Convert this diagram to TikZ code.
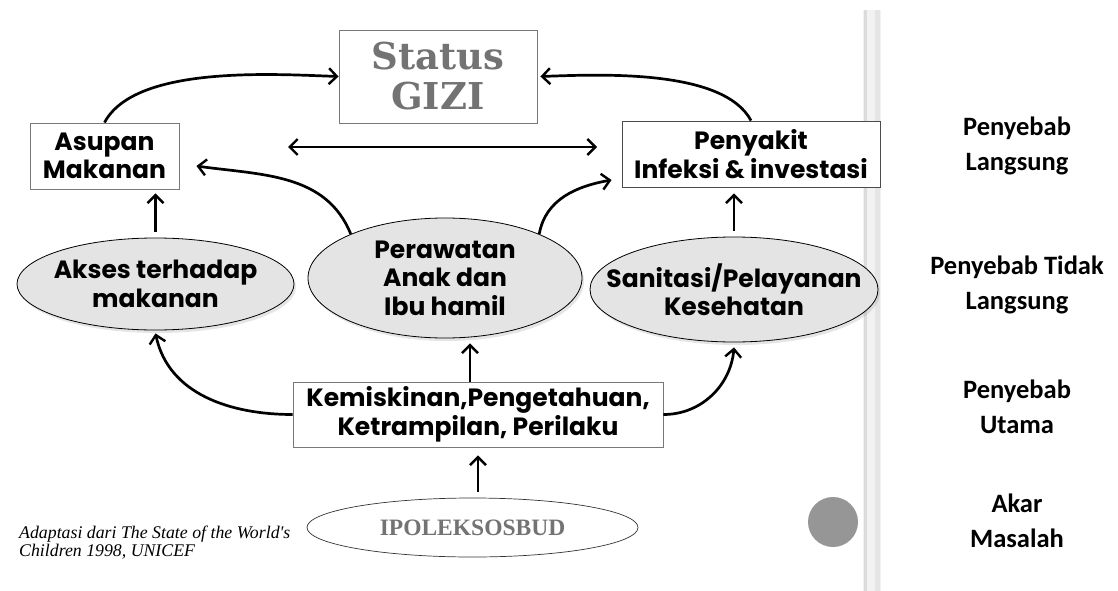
\documentclass[tikz,border=0pt]{standalone}
\usepackage{fontspec}
\setmainfont{Poppins}
\newfontfamily\labfont{Carlito}
\newfontfamily\dvserif{DejaVu Serif}
\newfontfamily\tmsfont{Liberation Serif}
\usetikzlibrary{arrows.meta,shapes.geometric,shadows,calc}
\definecolor{boxgray}{RGB}{120,120,120}
\definecolor{txtgray}{RGB}{115,115,115}
\definecolor{ellfill}{RGB}{228,228,228}
\definecolor{dotgray}{RGB}{150,150,150}
\tikzset{
  mybarb/.tip={Straight Barb[length=8pt,width=16pt,line width=2.4pt]},
  diafont/.style={font=\bfseries\fontsize{25}{28.5}\selectfont},
  boxnode/.style={draw=boxgray, line width=0.9pt, fill=white, align=center, inner sep=0pt, diafont},
  ellnode/.style={ellipse, draw=black, line width=0.8pt, fill=ellfill, align=center, inner xsep=-60pt, inner ysep=-30pt, diafont,
    drop shadow={opacity=0.2, shadow xshift=2pt, shadow yshift=-3pt}},
  arr/.style={line width=2.7pt, -{mybarb}},
  darr/.style={line width=2.7pt, {mybarb}-{mybarb}},
  labnode/.style={align=center, inner sep=0pt, font=\labfont\bfseries\fontsize{26.5}{35}\selectfont}
}
\begin{document}
\begin{tikzpicture}[x=1pt,y=-1pt]
\useasboundingbox (0,0) rectangle (1118,591);
\fill[white] (0,0) rectangle (1118,591);
% separator
\fill[gray!10] (863,10) rectangle (881,591);
\fill[gray!28] (864,10) rectangle (867,591);
\fill[gray!20] (875,10) rectangle (880,591);
% boxes
\node[boxnode, draw=boxgray, minimum width=198pt, minimum height=93pt, text=txtgray,
  font=\dvserif\bfseries\fontsize{37}{40}\selectfont] (sta) at (438,76.5) {Status\\GIZI};
\node[boxnode, minimum width=149pt, minimum height=66pt] (asu) at (104.5,156) {Asupan\\Makanan};
\node[boxnode, draw=black!70, minimum width=258pt, minimum height=66pt] (pen) at (751,154) {Penyakit\\Infeksi \& investasi};
\node[boxnode, minimum width=370pt, minimum height=65pt] (kem) at (478,414.5) {Kemiskinan,Pengetahuan,\\Ketrampilan, Perilaku};
% ellipses
\node[ellnode, minimum width=277pt, minimum height=92pt] (aks) at (155.5,284) {Akses terhadap\\makanan};
\node[ellnode, minimum width=274pt, minimum height=120pt] (per) at (445,278) {Perawatan\\Anak dan\\Ibu hamil};
\node[ellnode, minimum width=288pt, minimum height=105pt] (san) at (734,289.5) {Sanitasi/Pelayanan\\Kesehatan};
\node[ellipse, draw=black!80, line width=0.7pt, fill=white, inner xsep=-40pt, inner ysep=-10pt, minimum width=331pt, minimum height=59pt,
  text=txtgray, font=\tmsfont\bfseries\fontsize{23.5}{25}\selectfont] (ipo) at (472.5,527.5) {IPOLEKSOSBUD};
% caption
\node[anchor=west, align=left, inner sep=0pt, font=\tmsfont\itshape\fontsize{17.8}{18.5}\selectfont] (cap) at (19,542.5)
  {Adaptasi dari The State of the World's\\Children 1998, UNICEF};
% dot
\node[circle, fill=dotgray, minimum size=50pt, inner sep=0pt] (dot) at (833,522) {};
% right labels
\node[labnode] (l1) at (1017,146) {Penyebab\\Langsung};
\node[labnode] (l2) at (1017,285) {Penyebab Tidak\\Langsung};
\node[labnode] (l3) at (1017,406.5) {Penyebab\\Utama};
\node[labnode] (l4) at (1017,521) {Akar\\Masalah};
% connectors
\coordinate (dl) at (288,147);
\coordinate (dr) at (597,147);
\draw[darr] (dl) -- (dr);
\draw[arr] (asu.north) to[out=62,in=178,looseness=0.7] (sta.west);
\draw[arr] (pen.north) to[out=118,in=2,looseness=0.7] ([xshift=3pt]sta.east);
\draw[arr, shorten <=6pt, shorten >=4pt] (aks.north) -- (aks.north |- asu.south);
\draw[arr, shorten <=6pt, shorten >=6pt] (san.north) -- (san.north |- pen.south);
\draw[arr] (per.155) to[out=112,in=-8] ([xshift=17pt,yshift=-10pt]asu.east);
\draw[arr] (per.25) to[out=80,in=190] ([xshift=-10pt,yshift=-26pt]pen.west);
\draw[arr, shorten >=5pt] ([xshift=-8pt]kem.north) -- ([xshift=-8pt]kem.north |- per.south);
\draw[arr, shorten <=6pt, shorten >=8pt] (kem.south |- ipo.north) -- (kem.south);
\draw[arr] (kem.west) to[out=180,in=-78] ([yshift=-3pt]aks.south);
\draw[arr] (kem.east) to[out=0,in=-95] ([yshift=-5pt]san.south);
\end{tikzpicture}
\end{document}
